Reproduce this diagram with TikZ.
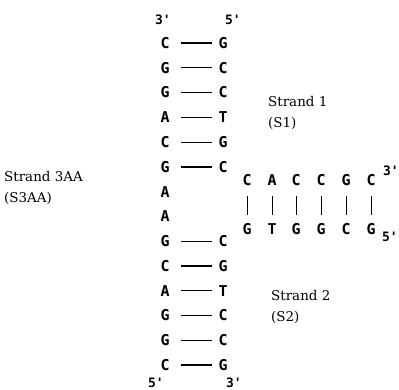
\documentclass[tikz,border=0pt]{standalone}
\usepackage{fontspec}
\setmainfont{DejaVu Serif}
\newfontfamily\basefont{DejaVu Sans Mono}

\tikzset{
	base/.style={font=\basefont\bfseries\fontsize{15}{15}\selectfont, inner sep=1bp},
	endmark/.style={font=\basefont\bfseries\fontsize{13}{13}\selectfont, inner sep=1bp},
	pair/.style={line width=1.2pt, shorten <=10bp, shorten >=5bp},
	rung/.style={line width=0.8pt, shorten <=9bp, shorten >=7bp},
	strandlabel/.style={font=\fontsize{13.5}{21}\selectfont, align=left, anchor=west, inner sep=0pt}
}

\begin{document}
\begin{tikzpicture}[x=1bp, y=-1bp]
		\useasboundingbox (0,0) rectangle (399,390);
		
		% Ends of the vertical duplex
		\node[endmark] (topL) at (163, 20) {3'};
		\node[endmark] (topR) at (233, 20) {5'};
		\node[endmark] (botL) at (156,383) {5'};
		\node[endmark] (botR) at (234,383) {3'};
		
		% Vertical strands, left (3AA) and right (S1 above, S2 below)
		\node[base] (L1)  at (165, 43.0) {C};  \node[base] (R1)  at (223, 43.0) {G};
		\node[base] (L2)  at (165, 67.8) {G};  \node[base] (R2)  at (223, 67.8) {C};
		\node[base] (L3)  at (165, 92.5) {G};  \node[base] (R3)  at (223, 92.5) {C};
		\node[base] (L4)  at (165,117.3) {A};  \node[base] (R4)  at (223,117.3) {T};
		\node[base] (L5)  at (165,142.1) {C};  \node[base] (R5)  at (223,142.1) {G};
		\node[base] (L6)  at (165,166.9) {G};  \node[base] (R6)  at (223,166.9) {C};
		\node[base] (L7)  at (165,191.6) {A};
		\node[base] (L8)  at (165,216.4) {A};
		\node[base] (L9)  at (165,241.2) {G};  \node[base] (R9)  at (223,241.2) {C};
		\node[base] (L10) at (165,266.0) {C};  \node[base] (R10) at (223,266.0) {G};
		\node[base] (L11) at (165,290.7) {A};  \node[base] (R11) at (223,290.7) {T};
		\node[base] (L12) at (165,315.5) {G};  \node[base] (R12) at (223,315.5) {C};
		\node[base] (L13) at (165,340.3) {G};  \node[base] (R13) at (223,340.3) {C};
		\node[base] (L14) at (165,365.0) {C};  \node[base] (R14) at (223,365.0) {G};
		
		\draw[pair] (L1) -- (R1);    \draw[pair] (L2) -- (R2);
		\draw[pair] (L3) -- (R3);    \draw[pair] (L4) -- (R4);
		\draw[pair] (L5) -- (R5);    \draw[pair] (L6) -- (R6);
		\draw[pair] (L9) -- (R9);    \draw[pair] (L10) -- (R10);
		\draw[pair] (L11) -- (R11);  \draw[pair] (L12) -- (R12);
		\draw[pair] (L13) -- (R13);  \draw[pair] (L14) -- (R14);
		
		% Horizontal duplex
		\node[base] (T1) at (247,180) {C};  \node[base] (B1) at (247,229) {G};
		\node[base] (T2) at (272,180) {A};  \node[base] (B2) at (272,229) {T};
		\node[base] (T3) at (296,180) {C};  \node[base] (B3) at (296,229) {G};
		\node[base] (T4) at (321,180) {C};  \node[base] (B4) at (321,229) {G};
		\node[base] (T5) at (346,180) {G};  \node[base] (B5) at (346,229) {C};
		\node[base] (T6) at (371,180) {C};  \node[base] (B6) at (371,229) {G};
		\node[endmark] (T3end) at (391,171) {3'};
		\node[endmark] (B5end) at (390,237) {5'};
		
		\draw[rung] (T1) -- (B1);  \draw[rung] (T2) -- (B2);
		\draw[rung] (T3) -- (B3);  \draw[rung] (T4) -- (B4);
		\draw[rung] (T5) -- (B5);  \draw[rung] (T6) -- (B6);
		
		% Strand names
		\node[strandlabel] (S1)   at (268,112.5) {Strand 1\\(S1)};
		\node[strandlabel] (S2)   at (271,307) {Strand 2\\(S2)};
		\node[strandlabel] (S3AA) at (  4,188) {Strand 3AA\\(S3AA)};
\end{tikzpicture}
\end{document}
